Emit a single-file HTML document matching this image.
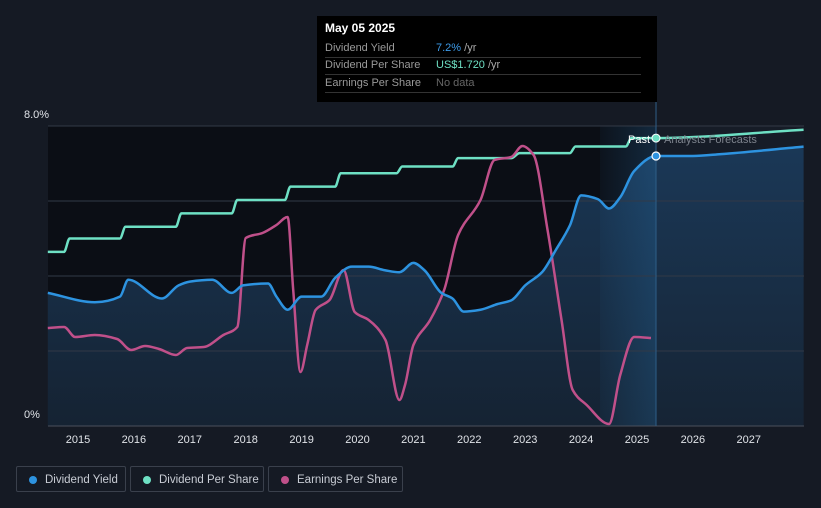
<!DOCTYPE html>
<html><head><meta charset="utf-8"><style>
body{margin:0;background:#151a24;font-family:"Liberation Sans",sans-serif;}
#wrap{position:relative;width:821px;height:508px;overflow:hidden;background:#151a24;}
svg{position:absolute;left:0;top:0}
.tt{position:absolute;left:317px;top:16px;width:340px;height:86px;background:#000;color:#fff;font-size:11px}
.tt .row{position:absolute;left:8px;width:316px;height:17px;border-bottom:1px solid #333;color:#9a9a9a;line-height:17px}
.leg{position:absolute;top:466px;height:26px;border:1px solid #3a404c;border-radius:2px;color:#c8ccd4;font-size:11.5px;line-height:26px;box-sizing:border-box;white-space:nowrap}
.leg i{position:absolute;left:12px;top:9px;width:8px;height:8px;border-radius:50%}
.leg span{position:absolute;left:28px}
</style></head><body>
<div id="wrap">
<svg id="chart" width="821" height="508"></svg>
<div class="tt">
 <div style="position:absolute;left:8px;top:5px;font-weight:bold;font-size:12px">May 05 2025</div>
 <div class="row" style="top:24px">Dividend Yield<span style="position:absolute;left:111px;color:#3d9be9">7.2%<span style="color:#aaa"> /yr</span></span></div>
 <div class="row" style="top:41px">Dividend Per Share<span style="position:absolute;left:111px;color:#6ee0c4">US$1.720<span style="color:#aaa"> /yr</span></span></div>
 <div class="row" style="top:59px">Earnings Per Share<span style="position:absolute;left:111px;color:#666">No data</span></div>
</div>
<div class="leg" style="left:16px;width:110px"><i style="background:#2d93e0"></i><span>Dividend Yield</span></div>
<div class="leg" style="left:130px;width:134px"><i style="background:#6ee0c4"></i><span>Dividend Per Share</span></div>
<div class="leg" style="left:268px;width:135px"><i style="background:#c0508a"></i><span>Earnings Per Share</span></div>
</div>
<script>
const yieldYears=[2014.46,2015.3,2015.75,2015.9,2016.5,2016.8,2017.0,2017.4,2017.75,2017.95,2018.4,2018.55,2018.75,2019.0,2019.35,2019.6,2019.9,2020.2,2020.5,2020.75,2021.0,2021.2,2021.5,2021.7,2021.9,2022.2,2022.5,2022.75,2023.0,2023.3,2023.55,2023.8,2024.0,2024.3,2024.5,2024.7,2024.95,2025.34,2026.0,2026.5,2027.98];
const yieldValues=[3.55,3.3,3.45,3.9,3.4,3.75,3.85,3.9,3.55,3.75,3.8,3.45,3.1,3.45,3.45,3.95,4.25,4.25,4.15,4.1,4.35,4.15,3.55,3.4,3.05,3.1,3.25,3.35,3.75,4.1,4.7,5.35,6.15,6.05,5.8,6.1,6.8,7.2,7.2,7.25,7.45];
const dpsYears=[2014.46,2014.75,2014.85,2015.75,2015.85,2016.75,2016.85,2017.75,2017.85,2018.7,2018.8,2019.6,2019.7,2020.7,2020.8,2021.7,2021.8,2022.75,2022.9,2023.8,2023.9,2024.8,2024.9,2025.34,2027.98];
const dpsValues=[1.04,1.04,1.12,1.12,1.19,1.19,1.27,1.27,1.35,1.35,1.43,1.43,1.51,1.51,1.55,1.55,1.60,1.60,1.63,1.63,1.67,1.67,1.72,1.72,1.77];
const epsYears=[2014.46,2014.75,2014.95,2015.3,2015.7,2015.95,2016.2,2016.45,2016.75,2016.95,2017.25,2017.6,2017.85,2018.0,2018.3,2018.55,2018.75,2018.85,2018.98,2019.1,2019.25,2019.5,2019.75,2019.95,2020.2,2020.5,2020.75,2020.85,2021.0,2021.3,2021.55,2021.8,2022.2,2022.45,2022.75,2022.95,2023.15,2023.4,2023.65,2023.85,2024.1,2024.5,2024.7,2024.95,2025.25];
const epsValues=[0.98,0.99,0.89,0.91,0.87,0.76,0.80,0.77,0.71,0.78,0.79,0.91,0.99,1.88,1.93,2.01,2.09,1.36,0.54,0.81,1.16,1.26,1.56,1.14,1.06,0.86,0.26,0.41,0.81,1.06,1.36,1.91,2.26,2.66,2.69,2.80,2.71,1.96,1.06,0.36,0.21,0.02,0.51,0.89,0.88];
const yTicks=["0%","8.0%"];
const xTicks=[2015,2016,2017,2018,2019,2020,2021,2022,2023,2024,2025,2026,2027];

const X0=48,X1=804,Y0=426,Y8=126,NOW=2025.34;
const xs=y=>78+(y-2015)*55.9;
const ys=v=>Y0-(Y0-Y8)*v/8;
const yd=v=>Y0-v*167.4;
const ye=v=>Y0-v*100;
const NS="http://www.w3.org/2000/svg";
const svg=document.getElementById('chart');
function mk(t,a,p){const e=document.createElementNS(NS,t);for(const k in a)e.setAttribute(k,a[k]);(p||svg).appendChild(e);return e;}
function mono(pts){const n=pts.length,dx=[],m=[],t=[];for(let i=0;i<n-1;i++){dx[i]=pts[i+1][0]-pts[i][0];m[i]=(pts[i+1][1]-pts[i][1])/dx[i];}
t[0]=m[0];t[n-1]=m[n-2];for(let i=1;i<n-1;i++){t[i]=(m[i-1]*m[i]<=0)?0:(3*(dx[i-1]+dx[i]))/((2*dx[i]+dx[i-1])/m[i-1]+(dx[i]+2*dx[i-1])/m[i]);}
let d="M"+pts[0][0]+","+pts[0][1];for(let i=0;i<n-1;i++){const h=dx[i]/3;d+=" C"+(pts[i][0]+h)+","+(pts[i][1]+t[i]*h)+" "+(pts[i+1][0]-h)+","+(pts[i+1][1]-t[i+1]*h)+" "+pts[i+1][0]+","+pts[i+1][1];}return d;}

const defs=mk('defs',{});
defs.innerHTML='<linearGradient id="af" x1="0" y1="0" x2="0" y2="1"><stop offset="0" stop-color="#1b3b5c" stop-opacity="0.9"/><stop offset="1" stop-color="#162536" stop-opacity="0.9"/></linearGradient><linearGradient id="hl" x1="0" y1="0" x2="1" y2="0"><stop offset="0" stop-color="#2a7ab8" stop-opacity="0.05"/><stop offset="1" stop-color="#2a7ab8" stop-opacity="0.25"/></linearGradient>';
let r=mk('rect',{x:X0,y:Y8,width:xs(NOW)-X0,height:Y0-Y8,fill:'#0b0e15'});


let f=mk('rect',{x:xs(NOW),y:Y8,width:X1-xs(NOW),height:Y0-Y8,fill:'#161c27'});


const yp=yieldYears.map((y,i)=>[xs(y),ys(yieldValues[i])]);
const yd0=mono(yp);
let a=mk('path',{d:yd0+" L"+xs(yieldYears[yieldYears.length-1])+","+Y0+" L"+xs(yieldYears[0])+","+Y0+" Z",fill:'url(#af)'});


let h=mk('rect',{x:600,y:Y8,width:xs(NOW)-600,height:Y0-Y8,fill:'url(#hl)'});


for(let v=0;v<=8;v+=2){const g=mk('line',{x1:X0,x2:X1,y1:ys(v),y2:ys(v),stroke:v==0?'#4a505c':'#323946','stroke-width':1});

}
let vl=mk('line',{x1:xs(NOW),x2:xs(NOW),y1:100,y2:Y0,stroke:'#2f5f88','stroke-width':1});


let dp=mk('path',{d:mono(dpsYears.map((y,i)=>[xs(y),yd(dpsValues[i])])),fill:'none',stroke:'#6ee0c4','stroke-width':2.5});


let ep=mk('path',{d:mono(epsYears.map((y,i)=>[xs(y),ye(epsValues[i])])),fill:'none',stroke:'#c0508a','stroke-width':2.5});


let yl=mk('path',{d:yd0,fill:'none',stroke:'#2d93e0','stroke-width':2.5});


let t1=mk('text',{x:650,y:143,fill:'#fff','font-size':11,'text-anchor':'end'});t1.textContent='Past';


let t2=mk('text',{x:664,y:143,fill:'#7d838d','font-size':11});t2.textContent='Analysts Forecasts';


let d1=mk('circle',{cx:xs(NOW),cy:yd(1.72),r:4,fill:'#6ee0c4',stroke:'#fff','stroke-width':1});


let d2=mk('circle',{cx:xs(NOW),cy:ys(7.2),r:4,fill:'#2d93e0',stroke:'#fff','stroke-width':1.2});


[[0,yTicks[0]],[8,yTicks[1]]].forEach(([v,s])=>{const t=mk('text',{x:24,y:ys(v)-8,fill:'#e0e3e8','font-size':11});t.textContent=s;

});
xTicks.forEach(y=>{const t=mk('text',{x:xs(y),y:443,fill:'#e0e3e8','font-size':11,'text-anchor':'middle'});t.textContent=y;

});
</script>
</body></html>
